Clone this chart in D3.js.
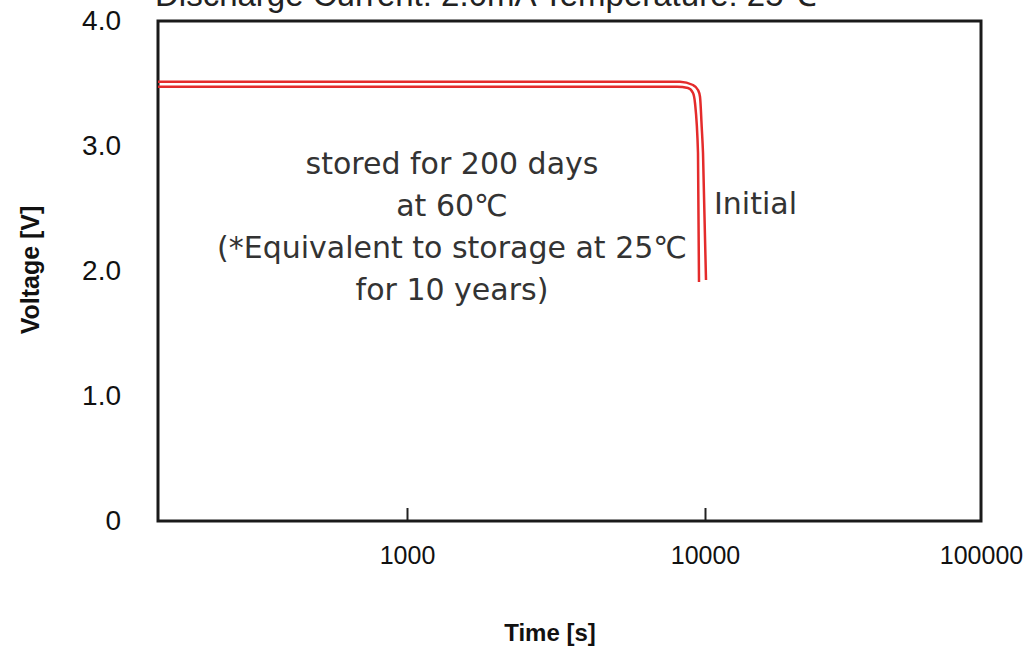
<!DOCTYPE html>
<html>
<head>
<meta charset="utf-8">
<script src="https://cdn.jsdelivr.net/npm/d3@7"></script>
<style>
    body { margin: 0; background: #fff; }
    svg { display: block; }
</style>
</head>
<body>
<div id="chart"></div>
<script>
"use strict";

// Discharge curves: time [s] and voltage [V]
const initialTime = [146, 8243, 9115, 9473, 9621, 9748, 9847, 10084];
const initialVolt = [3.515, 3.515, 3.488, 3.448, 3.394, 3.154, 2.944, 1.928];
const storedTime = [146, 8054, 8768, 9115, 9256, 9473, 9547];
const storedVolt = [3.474, 3.474, 3.464, 3.424, 3.344, 2.944, 1.912];

// Axis ticks
const xTicks = [1000, 10000, 100000];
const yTicks = [0, 1, 2, 3, 4];

const titleText = 'Discharge Current: 2.0mA  Temperature: 25\u2103';
const noteLines = ['stored for 200 days', 'at 60\u2103',
    '(*Equivalent to storage at 25\u2103', 'for 10 years)'];
const initialLabel = 'Initial';

const width = 1026, height = 651;
const margin = {left: 158, right: 45, top: 21, bottom: 130};
const chartWidth = width - margin.left - margin.right;
const chartHeight = height - margin.top - margin.bottom;
const axisFont = '"Liberation Sans", Arial, sans-serif';
const noteFont = '"DejaVu Sans", Verdana, sans-serif';

let svg = d3.select('#chart').append('svg')
    .attr('width', width)
    .attr('height', height);

// Title sits mostly above the top edge, as in the original
svg.append('text')
    .attr('x', 155)
    .attr('y', 6)
    .style('font-family', axisFont)
    .style('font-size', '33px')
    .style('fill', '#222')
    .text(titleText);

// Log axis in the source is not evenly spaced per decade, so use a
// piecewise log scale pinned at the labelled decades
let x = d3.scaleLog()
    .domain([146, 1000, 10000, 100000])
    .range([0, 249, 547, chartWidth]);
let y = d3.scaleLinear()
    .domain([0, 4])
    .range([chartHeight, 0]);

let g = svg.append('g')
    .attr('transform', 'translate(' + margin.left + ',' + margin.top + ')');

let xAxis = d3.axisBottom(x)
    .tickValues(xTicks)
    .tickFormat(d3.format('d'))
    .tickSizeInner(-13)
    .tickSizeOuter(0)
    .tickPadding(25);
let yAxis = d3.axisLeft(y)
    .tickValues(yTicks)
    .tickFormat(function (d) { return d === 0 ? '0' : d.toFixed(1); })
    .tickSize(0)
    .tickPadding(37);

let xg = g.append('g')
    .attr('transform', 'translate(0,' + chartHeight + ')')
    .call(xAxis);
let yg = g.append('g').call(yAxis);

[xg, yg].forEach(function (ax) {
    ax.select('.domain').remove();
    ax.selectAll('text')
        .style('font-family', axisFont)
        .style('fill', '#111');
    ax.selectAll('line').attr('stroke', '#222').attr('stroke-width', 2);
});
xg.selectAll('text').style('font-size', '25px');
yg.selectAll('text').style('font-size', '28px');
// Last tick falls on the frame edge
xg.selectAll('.tick line').filter(function (d) { return d === 100000; }).remove();

// Plot frame
g.append('rect')
    .attr('x', 0)
    .attr('y', 0)
    .attr('width', chartWidth)
    .attr('height', chartHeight)
    .attr('fill', 'none')
    .attr('stroke', '#1a1a1a')
    .attr('stroke-width', 3);

let line = d3.line()
    .x(function (d) { return x(d[0]); })
    .y(function (d) { return y(d[1]); })
    .curve(d3.curveMonotoneX);

[[initialTime, initialVolt], [storedTime, storedVolt]].forEach(function (s) {
    let pts = d3.zip(s[0], s[1]);
    g.append('path')
        .datum(pts)
        .attr('d', line)
        .attr('fill', 'none')
        .attr('stroke', '#e42b2b')
        .attr('stroke-width', 2.5);
});

// Annotations
svg.append('g').selectAll('text')
    .data(noteLines)
    .enter().append('text')
    .attr('x', 452)
    .attr('y', function (d, i) { return 163 + i * 42.3; })
    .attr('dy', '0.35em')
    .style('text-anchor', 'middle')
    .style('font-family', noteFont)
    .style('font-size', '30px')
    .style('fill', '#333')
    .text(function (d) { return d; });

svg.append('text')
    .attr('x', 714)
    .attr('y', 203)
    .attr('dy', '0.35em')
    .style('font-family', noteFont)
    .style('font-size', '30px')
    .style('fill', '#333')
    .text(initialLabel);

// Axis titles
svg.append('text')
    .attr('transform', 'translate(39,270) rotate(-90)')
    .style('text-anchor', 'middle')
    .style('font-family', axisFont)
    .style('font-weight', 'bold')
    .style('font-size', '25px')
    .style('fill', '#111')
    .text('Voltage [V]');

svg.append('text')
    .attr('x', 550)
    .attr('y', 641)
    .style('text-anchor', 'middle')
    .style('font-family', axisFont)
    .style('font-weight', 'bold')
    .style('font-size', '24px')
    .style('fill', '#111')
    .text('Time [s]');
</script>
</body>
</html>
